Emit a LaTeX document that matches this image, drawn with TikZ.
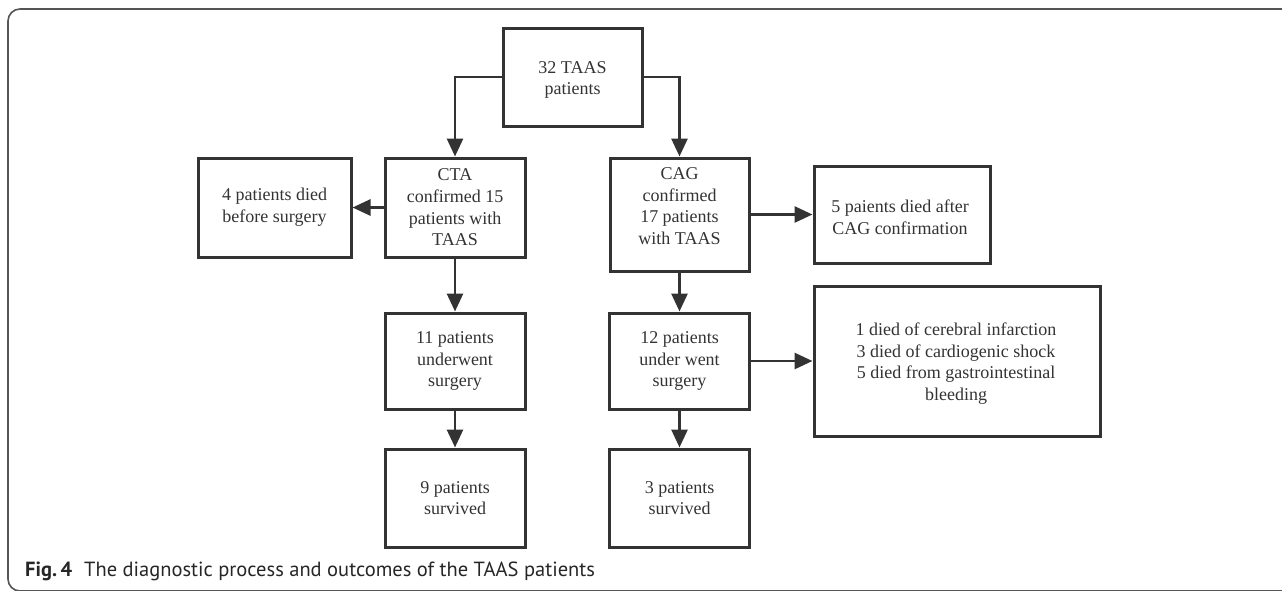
\documentclass[tikz,border=0pt]{standalone}
\usepackage{fontspec}
\setmainfont{Liberation Serif}
\newfontfamily\capfont{PT Sans}
\usetikzlibrary{arrows.meta}
\definecolor{ink}{HTML}{333333}
\definecolor{framec}{HTML}{555555}
\tikzset{
  box/.style={draw=ink, line width=3pt, text=ink, inner sep=0pt, align=center,
    font=\fontsize{18}{21.7}\selectfont, minimum width=#1},
  box/.default=140pt,
  txt/.style={text=ink, inner sep=0pt, align=center, font=\fontsize{18}{21.7}\selectfont},
  conn/.style={draw=ink, line width=2.8pt, -{Triangle[length=18pt,width=16pt]}}
}
\begin{document}
\begin{tikzpicture}[x=1pt,y=-1pt]
\useasboundingbox (0,0) rectangle (1282,590);
\draw[framec, line width=1.6pt, rounded corners=12pt] (1300,9) -- (8,9) -- (8,591) -- (1300,591);

\node[box=139pt, minimum height=98pt] (top) at (572.5,77) {};
\node[txt] (toptxt) at (572.5,80) {32 TAAS\\patients};
\node[box=140pt, minimum height=99pt] (cta) at (455,207.5) {CTA\\confirmed 15\\patients with\\TAAS};
\node[box=153pt, minimum height=99pt] (d4) at (274.5,207.5) {4 patients died\\before surgery};
\node[box=139pt, minimum height=113pt] (cag) at (679.5,214.5) {};
\node[txt] (cagtxt) at (679.5,206) {CAG\\confirmed\\17 patients\\with TAAS};
\node[box=176pt, minimum height=97pt] (d5) at (902,214.5) {};
\node[txt] (d5txt) at (900,217) {5 paients died after\\CAG confirmation};
\node[box=140pt, minimum height=96pt] (s11) at (455,361) {11 patients\\underwent\\surgery};
\node[box=140pt, minimum height=96pt] (s12) at (679.5,361) {12 patients\\under went\\surgery};
\node[box=140pt, minimum height=98pt] (v9) at (455,498) {9 patients\\survived};
\node[box=140pt, minimum height=98pt] (v3) at (679.5,498) {3 patients\\survived};
\node[box=286pt, minimum height=150pt] (big) at (957,361) {};
\node[txt] (bigtxt) at (956,363.5) {1 died of cerebral infarction\\3 died of cardiogenic shock\\5 died from gastrointestinal\\bleeding};

\draw[conn] (top.west) -| (cta.north);
\draw[conn] (top.east) -| (cag.north);
\draw[conn] (cta.west) -- (d4.east);
\draw[conn] (cag.east) -- (d5.west);
\draw[conn] (cta.south) -- (s11.north);
\draw[conn] (cag.south) -- (s12.north);
\draw[conn] (s11.south) -- (v9.north);
\draw[conn] (s12.south) -- (v3.north);
\draw[conn] (s12.east) -- (big.west);

\node[anchor=base west, inner sep=0pt, text=black!85, font=\capfont\fontsize{20.5}{22}\selectfont] (cap) at (25,576)
  {\textbf{Fig.\,4}\hspace{12pt}The diagnostic process and outcomes of the TAAS patients};
\end{tikzpicture}
\end{document}
